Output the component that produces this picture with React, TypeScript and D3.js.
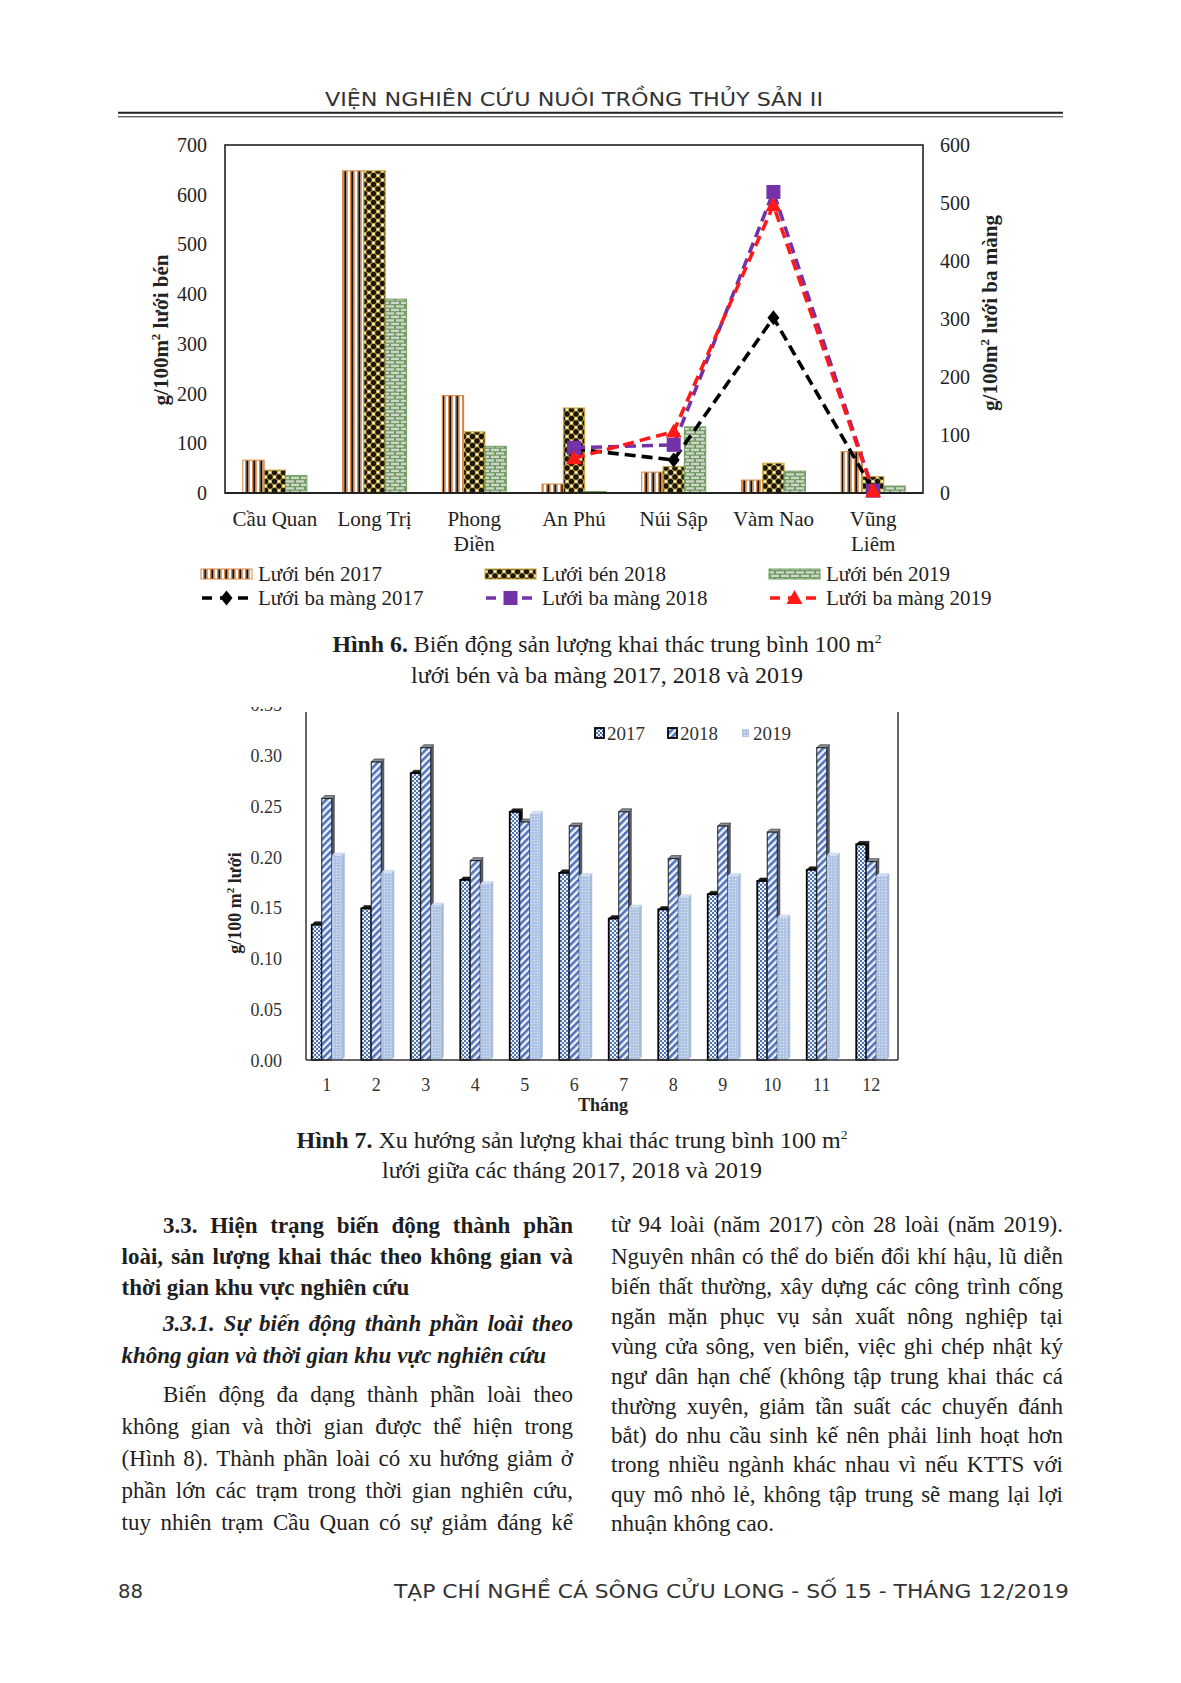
import React from 'react';
import * as d3 from 'd3';

// ---------- Figure 6 data ----------
const stations = ['Cầu Quan', 'Long Trị', 'Phong Điền', 'An Phú', 'Núi Sập', 'Vàm Nao', 'Vũng Liêm'];
const stationLabelLines = [['Cầu Quan'], ['Long Trị'], ['Phong', 'Điền'], ['An Phú'], ['Núi Sập'], ['Vàm Nao'], ['Vũng', 'Liêm']];
const benYears = ['2017', '2018', '2019'];
const luoiBen2017 = [66, 648, 196, 18, 42, 26, 83];
const luoiBen2018 = [46, 648, 123, 171, 53, 60, 33];
const luoiBen2019 = [35, 390, 94, 3, 133, 44, 14];
const baMang2017: (number | null)[] = [null, null, null, 76, 57, 302, 5];
const baMang2018: (number | null)[] = [null, null, null, 78, 83, 519, 4];
const baMang2019: (number | null)[] = [null, null, null, 60, 106, 496, 3];
const leftTicks = [0, 100, 200, 300, 400, 500, 600, 700];
const rightTicks = [0, 100, 200, 300, 400, 500, 600];
const barLegend = ['Lưới bén 2017', 'Lưới bén 2018', 'Lưới bén 2019'];
const lineLegend = ['Lưới ba màng 2017', 'Lưới ba màng 2018', 'Lưới ba màng 2019'];

// ---------- Figure 7 data ----------
const months = ['1', '2', '3', '4', '5', '6', '7', '8', '9', '10', '11', '12'];
const monthYears = ['2017', '2018', '2019'];
const thang2017 = [0.133, 0.149, 0.282, 0.177, 0.244, 0.184, 0.139, 0.148, 0.163, 0.176, 0.187, 0.212];
const thang2018 = [0.257, 0.293, 0.307, 0.196, 0.234, 0.230, 0.244, 0.198, 0.230, 0.224, 0.307, 0.195];
const thang2019 = [0.201, 0.184, 0.152, 0.173, 0.242, 0.181, 0.150, 0.160, 0.181, 0.140, 0.201, 0.181];
const monthTicks = [0, 0.05, 0.1, 0.15, 0.2, 0.25, 0.3, 0.35];

// ---------- Page text ----------
const headerText = 'VIỆN NGHIÊN CỨU NUÔI TRỒNG THỦY SẢN II';
const footerText = 'TẠP CHÍ NGHỀ CÁ SÔNG CỬU LONG - SỐ 15 - THÁNG 12/2019';
const pageNumber = '88';
const col1Lines = [
  { t: '3.3.  Hiện trạng biến động thành phần', w: 'bold', s: 'normal', ind: true, j: true },
  { t: 'loài, sản lượng khai thác theo không gian và', w: 'bold', s: 'normal', ind: false, j: true },
  { t: 'thời gian khu vực nghiên cứu', w: 'bold', s: 'normal', ind: false, j: false },
  { t: '3.3.1. Sự biến động thành phần loài theo', w: 'bold', s: 'italic', ind: true, j: true },
  { t: 'không gian và thời gian khu vực nghiên cứu', w: 'bold', s: 'italic', ind: false, j: false },
  { t: 'Biến động đa dạng thành phần loài theo', w: 'normal', s: 'normal', ind: true, j: true },
  { t: 'không gian và thời gian được thể hiện trong', w: 'normal', s: 'normal', ind: false, j: true },
  { t: '(Hình 8). Thành phần loài có xu hướng giảm ở', w: 'normal', s: 'normal', ind: false, j: true },
  { t: 'phần lớn các trạm trong thời gian nghiên cứu,', w: 'normal', s: 'normal', ind: false, j: true },
  { t: 'tuy nhiên trạm Cầu Quan có sự giảm đáng kể', w: 'normal', s: 'normal', ind: false, j: true },
];
const col1Y = [1233, 1264, 1295, 1331, 1363, 1402, 1434, 1466, 1498, 1530];
const col2Lines = [
  'từ 94 loài (năm 2017) còn 28 loài (năm 2019).',
  'Nguyên nhân có thể do biến đổi khí hậu, lũ diễn',
  'biến thất thường, xây dựng các công trình cống',
  'ngăn mặn phục vụ sản xuất nông nghiệp tại',
  'vùng cửa sông, ven biển, việc ghi chép nhật ký',
  'ngư dân hạn chế (không tập trung khai thác cá',
  'thường xuyên, giảm tần suất các chuyến đánh',
  'bắt) do nhu cầu sinh kế nên phải linh hoạt hơn',
  'trong nhiều ngành khác nhau vì nếu KTTS với',
  'quy mô nhỏ lẻ, không tập trung sẽ mang lại lợi',
  'nhuận không cao.',
];
const col2Y = [1232, 1264, 1294, 1324, 1354, 1384, 1414, 1443, 1472, 1502, 1531];

const SERIF = '"Liberation Serif", "Times New Roman", serif';
const COND = '"DejaVu Sans Condensed", "Liberation Sans Narrow", "DejaVu Sans", sans-serif';
const BODY = 23;

let _ctx: CanvasRenderingContext2D | null = null;
function measure(s: string, font: string) {
  if (!_ctx) _ctx = document.createElement('canvas').getContext('2d');
  _ctx!.font = font;
  return _ctx!.measureText(s).width;
}

function TextLine({ text, x0, x1, y, weight, fstyle, justify, size = BODY }: any) {
  const font = `${fstyle} ${weight} ${size}px "Liberation Serif"`;
  const common = { fontFamily: SERIF, fontSize: size, fontWeight: weight, fontStyle: fstyle, fill: '#1e1e1e' };
  if (!justify) return <text x={x0} y={y} {...common}>{text}</text>;
  const words = text.split(/\s+/);
  const widths = words.map((w: string) => measure(w, font));
  const total = d3.sum(widths);
  let gap = (x1 - x0 - total) / (words.length - 1);
  if (gap < 3) {
    return <text x={x0} y={y} {...common} textLength={x1 - x0} lengthAdjust="spacingAndGlyphs">{text}</text>;
  }
  let x = x0;
  return (
    <g>
      {words.map((w: string, i: number) => {
        const el = <text key={i} x={x} y={y} {...common}>{w}</text>;
        x += widths[i] + gap;
        return el;
      })}
    </g>
  );
}

function Figure6() {
  const L = 225, R = 923, T = 145, B = 493;
  const x = d3.scaleBand<string>().domain(stations).range([L, R]);
  const inner = d3.scaleBand<string>().domain(benYears).range([-32, 32]);
  const yL = d3.scaleLinear().domain([0, 700]).range([B, T]);
  const yR = d3.scaleLinear().domain([0, 600]).range([B, T]);
  const benSeries = [luoiBen2017, luoiBen2018, luoiBen2019];
  const benFill = ['url(#p17)', 'url(#p18)', 'url(#p19)'];
  const benStroke = ['#d9843f', '#c9a233', '#6f9f5f'];
  const lineSeries = [baMang2017, baMang2018, baMang2019];
  const lineColor = ['#000000', '#7432a8', '#ff1a1a'];
  const cx = (s: string) => (x(s) as number) + x.bandwidth() / 2;
  const line = d3.line<number | null>()
    .defined((d) => d !== null)
    .x((_, i) => cx(stations[i]))
    .y((d) => yR(d as number));

  const marker = (k: number, px: number, py: number, key: any) => {
    if (k === 0) {
      const s = 7.5;
      return <path key={key} d={`M${px},${py - s}L${px + s * 0.8},${py}L${px},${py + s}L${px - s * 0.8},${py}Z`} fill="#000" />;
    }
    if (k === 1) return <rect key={key} x={px - 7} y={py - 7} width={14} height={14} fill="#7432a8" />;
    const s = 8;
    return <path key={key} d={`M${px},${py - s}L${px + s},${py + s * 0.75}L${px - s},${py + s * 0.75}Z`} fill="#ff1a1a" />;
  };

  return (
    <g>
      <rect x={L} y={T} width={R - L} height={B - T} fill="none" stroke="#222" strokeWidth={1.6} />
      {leftTicks.map((t) => (
        <text key={t} x={207} y={yL(t) + 7} textAnchor="end" fontFamily={SERIF} fontSize={20} fill="#222">{t}</text>
      ))}
      {rightTicks.map((t) => (
        <text key={t} x={940} y={yR(t) + 7} textAnchor="start" fontFamily={SERIF} fontSize={20} fill="#222">{t}</text>
      ))}
      <text transform={`translate(168,330) rotate(-90)`} textAnchor="middle" fontFamily={SERIF} fontSize={21} fontWeight="bold" fill="#222">
        g/100m<tspan dy={-8} fontSize={13}>2</tspan><tspan dy={8}> lưới bén</tspan>
      </text>
      <text transform={`translate(997,313) rotate(-90)`} textAnchor="middle" fontFamily={SERIF} fontSize={21} fontWeight="bold" fill="#222">
        g/100m<tspan dy={-8} fontSize={13}>2</tspan><tspan dy={8}> lưới ba màng</tspan>
      </text>
      {benSeries.map((ser, k) => (
        <g key={k}>
          {ser.map((v, i) => {
            const bx = cx(stations[i]) + (inner(benYears[k]) as number);
            return (
              <rect key={i} x={bx} y={yL(v)} width={inner.bandwidth()} height={B - yL(v)}
                fill={benFill[k]} stroke={benStroke[k]} strokeWidth={1} />
            );
          })}
        </g>
      ))}
      <line x1={L} x2={R} y1={B} y2={B} stroke="#222" strokeWidth={1.8} />
      {lineSeries.map((ser, k) => (
        <g key={k}>
          <path d={line(ser) as string} fill="none" stroke={lineColor[k]} strokeWidth={3.6} strokeDasharray="11,6" />
          {ser.map((v, i) => (v === null ? null : marker(k, cx(stations[i]), yR(v), i)))}
        </g>
      ))}
      {stationLabelLines.map((lines, i) => (
        <text key={i} x={cx(stations[i])} y={526} textAnchor="middle" fontFamily={SERIF} fontSize={21} fill="#222">
          {lines.map((ln, j) => (
            <tspan key={j} x={cx(stations[i])} dy={j === 0 ? 0 : 25}>{ln}</tspan>
          ))}
        </text>
      ))}
      {barLegend.map((lab, k) => {
        const x0 = [201, 485, 769][k];
        return (
          <g key={k}>
            <rect x={x0} y={569} width={51} height={10} fill={benFill[k]} stroke={benStroke[k]} strokeWidth={1} />
            <text x={x0 + 57} y={581} fontFamily={SERIF} fontSize={21} fill="#222">{lab}</text>
          </g>
        );
      })}
      {lineLegend.map((lab, k) => {
        const x0 = [201, 485, 769][k];
        return (
          <g key={k}>
            <line x1={x0} x2={x0 + 51} y1={598} y2={598} stroke={lineColor[k]} strokeWidth={3.6} strokeDasharray="10,8" strokeDashoffset={-1} />
            {marker(k, x0 + 25.5, 598, 'm')}
            <text x={x0 + 57} y={605} fontFamily={SERIF} fontSize={21} fill="#222">{lab}</text>
          </g>
        );
      })}
      <text x={607} y={652} textAnchor="middle" fontFamily={SERIF} fontSize={23} fill="#1e1e1e" textLength={549} lengthAdjust="spacingAndGlyphs">
        <tspan fontWeight="bold">Hình 6.</tspan> Biến động sản lượng khai thác trung bình 100 m<tspan dy={-9} fontSize={13}>2</tspan>
      </text>
      <text x={607} y={683} textAnchor="middle" fontFamily={SERIF} fontSize={23} fill="#1e1e1e" textLength={392} lengthAdjust="spacingAndGlyphs">lưới bén và ba màng 2017, 2018 và 2019</text>
    </g>
  );
}

function Figure7() {
  const L = 306, R = 898, TOP = 712, BASE = 1060;
  const x = d3.scaleBand<string>().domain(months).range([302, 896]);
  const inner = d3.scaleBand<string>().domain(monthYears).range([-15, 15]);
  const y = d3.scaleLinear().domain([0, 0.35]).range([BASE, BASE - 356]);
  const series = [thang2017, thang2018, thang2019];
  const front = ['url(#q17)', 'url(#q18)', 'url(#q19)'];
  const topC = ['#1a1a1a', '#8a8f99', '#d3def0'];
  const sideC = ['#111', '#555a66', '#a9bcdc'];
  const outline = ['#000', '#1a1a1a', 'none'];
  const d = 3;
  const cx = (m: string) => (x(m) as number) + x.bandwidth() / 2;
  return (
    <g>
      <defs>
        <clipPath id="clip7"><rect x={0} y={707} width={1181} height={500} /></clipPath>
      </defs>
      <line x1={L} x2={L} y1={TOP} y2={BASE} stroke="#333" strokeWidth={1.5} />
      <line x1={R} x2={R} y1={TOP} y2={BASE} stroke="#333" strokeWidth={1.5} />
      <g clipPath="url(#clip7)">
        {monthTicks.map((t) => (
          <text key={t} x={282} y={y(t) + 7} textAnchor="end" fontFamily={SERIF} fontSize={18} fill="#333">{d3.format('.2f')(t)}</text>
        ))}
      </g>
      {series.map((ser, k) => (
        <g key={k}>
          {ser.map((v, i) => {
            const bx = cx(months[i]) + (inner(monthYears[k]) as number);
            const w = inner.bandwidth();
            const ty = y(v);
            return (
              <g key={i}>
                <polygon points={`${bx + w},${ty} ${bx + w + d},${ty - d} ${bx + w + d},${BASE - d} ${bx + w},${BASE}`} fill={sideC[k]} />
                <polygon points={`${bx},${ty} ${bx + d},${ty - d} ${bx + w + d},${ty - d} ${bx + w},${ty}`} fill={topC[k]} stroke={k === 2 ? 'none' : '#222'} strokeWidth={0.6} />
                <rect x={bx} y={ty} width={w} height={BASE - ty} fill={front[k]} stroke={outline[k]} strokeWidth={k === 0 ? 1.8 : 1} />
              </g>
            );
          })}
        </g>
      ))}
      <line x1={L} x2={R} y1={BASE} y2={BASE} stroke="#333" strokeWidth={1.5} />
      {months.map((m) => (
        <text key={m} x={cx(m)} y={1091} textAnchor="middle" fontFamily={SERIF} fontSize={18} fill="#333">{m}</text>
      ))}
      <text x={603} y={1111} textAnchor="middle" fontFamily={SERIF} fontSize={18} fontWeight="bold" fill="#222">Tháng</text>
      <text transform="translate(241,903) rotate(-90)" textAnchor="middle" fontFamily={SERIF} fontSize={18} fontWeight="bold" fill="#222">
        g/100 m<tspan dy={-7} fontSize={11}>2</tspan><tspan dy={7}> lưới</tspan>
      </text>
      {monthYears.map((yr, k) => {
        const bx = [595, 668, 742][k];
        return (
          <g key={yr}>
            {k < 2 ? (
              <rect x={bx} y={728} width={9} height={10} fill={front[k]} stroke="#000" strokeWidth={1.8} />
            ) : (
              <rect x={bx} y={729} width={7} height={8} fill={front[k]} />
            )}
            <text x={bx + (k < 2 ? 12 : 11)} y={740} fontFamily={SERIF} fontSize={19} fill="#333">{yr}</text>
          </g>
        );
      })}
      <text x={572} y={1148} textAnchor="middle" fontFamily={SERIF} fontSize={23} fill="#1e1e1e" textLength={551} lengthAdjust="spacingAndGlyphs">
        <tspan fontWeight="bold">Hình 7.</tspan> Xu hướng sản lượng khai thác trung bình 100 m<tspan dy={-9} fontSize={13}>2</tspan>
      </text>
      <text x={572} y={1178} textAnchor="middle" fontFamily={SERIF} fontSize={23} fill="#1e1e1e" textLength={380} lengthAdjust="spacingAndGlyphs">lưới giữa các tháng 2017, 2018 và 2019</text>
    </g>
  );
}

export default function App() {
  return (
    <svg width={1181} height={1683} viewBox="0 0 1181 1683" style={{ position: 'absolute', left: 0, top: 0, background: '#fff' }}>
      <defs>
        <pattern id="p17" patternUnits="userSpaceOnUse" width={7} height={10}>
          <rect width={7} height={10} fill="#fff" />
          <rect x={0} width={1.3} height={10} fill="#e08a48" />
          <rect x={1.3} width={2.2} height={10} fill="#111" />
          <rect x={3.5} width={1.3} height={10} fill="#e08a48" />
        </pattern>
        <pattern id="p18" patternUnits="userSpaceOnUse" width={9} height={9}>
          <rect width={9} height={9} fill="#c9a63e" />
          <circle cx={4.5} cy={4.5} r={2.7} fill="#1b170a" />
          <circle cx={0} cy={0} r={2.7} fill="#1b170a" />
          <circle cx={9} cy={0} r={2.7} fill="#1b170a" />
          <circle cx={0} cy={9} r={2.7} fill="#1b170a" />
          <circle cx={9} cy={9} r={2.7} fill="#1b170a" />
          <path d="M0,2.9L1.6,4.5L0,6.1L-1.6,4.5Z M9,2.9L10.6,4.5L9,6.1L7.4,4.5Z M4.5,-1.6L6.1,0L4.5,1.6L2.9,0Z M4.5,7.4L6.1,9L4.5,10.6L2.9,9Z" fill="#fffbe8" />
        </pattern>
        <pattern id="p19" patternUnits="userSpaceOnUse" width={10} height={7}>
          <rect width={10} height={7} fill="#6f9e60" />
          <rect x={1} y={0.8} width={8} height={2.2} fill="#d2d4d0" />
          <rect x={-4} y={4.3} width={8} height={2.2} fill="#d2d4d0" />
          <rect x={6} y={4.3} width={8} height={2.2} fill="#d2d4d0" />
        </pattern>
        <pattern id="q17" patternUnits="userSpaceOnUse" width={4} height={4}>
          <rect width={4} height={4} fill="#eef2fa" />
          <rect x={0} y={0} width={2} height={2} fill="#5274b8" />
          <rect x={2} y={2} width={2} height={2} fill="#5274b8" />
        </pattern>
        <pattern id="q18" patternUnits="userSpaceOnUse" width={5} height={5} patternTransform="rotate(45)">
          <rect width={5} height={5} fill="#f4f6fb" />
          <rect x={0} width={2.6} height={5} fill="#4e72bd" />
        </pattern>
        <pattern id="q19" patternUnits="userSpaceOnUse" width={3} height={3}>
          <rect width={3} height={3} fill="#b3c7e6" />
          <rect x={0} y={0} width={1} height={1} fill="#dfe8f5" />
          <rect x={1.5} y={1.5} width={1} height={1} fill="#9fb6dc" />
        </pattern>
      </defs>

      <text x={574} y={106} textAnchor="middle" fontFamily={COND} fontSize={19} fill="#333" textLength={498} lengthAdjust="spacingAndGlyphs">{headerText}</text>
      <line x1={118} x2={1063} y1={112.8} y2={112.8} stroke="#222" strokeWidth={2} />
      <line x1={118} x2={1063} y1={116.8} y2={116.8} stroke="#222" strokeWidth={1} />

      <Figure6 />
      <Figure7 />

      {col1Lines.map((ln, i) => (
        <TextLine key={i} text={ln.t} x0={ln.ind ? 163 : 121.5} x1={573} y={col1Y[i]} weight={ln.w} fstyle={ln.s} justify={ln.j} />
      ))}
      {col2Lines.map((t, i) => (
        <TextLine key={i} text={t} x0={611} x1={1063} y={col2Y[i]} weight="normal" fstyle="normal" justify={i < col2Lines.length - 1} />
      ))}

      <text x={118} y={1598} fontFamily={COND} fontSize={20} fill="#333" textLength={25} lengthAdjust="spacingAndGlyphs">{pageNumber}</text>
      <text x={394} y={1598} fontFamily={COND} fontSize={20} fill="#333" textLength={675} lengthAdjust="spacingAndGlyphs">{footerText}</text>
    </svg>
  );
}
